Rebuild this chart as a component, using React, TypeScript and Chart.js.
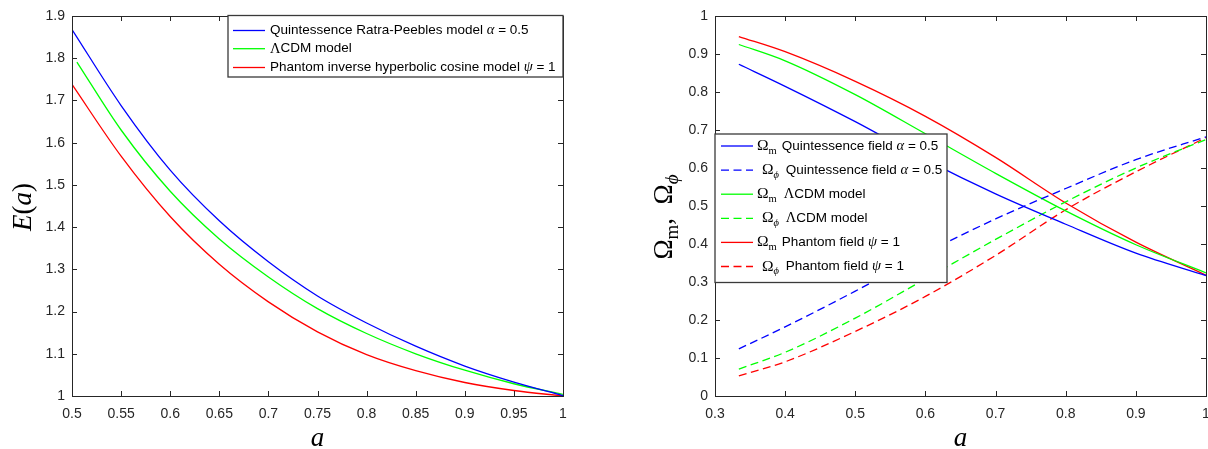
import React, { useEffect, useRef } from "react";
import { Chart, registerables } from "chart.js";

Chart.register(...registerables);

// ---------- Left panel: E(a) ----------
const aQuintLeft = [0.5, 0.55, 0.6, 0.65, 0.7, 0.75, 0.8, 0.85, 0.9, 0.95, 1];
const eQuint = [1.868, 1.688, 1.535, 1.415, 1.318, 1.237, 1.173, 1.118, 1.071, 1.033, 1.001];
const aLcdmLeft = [0.505, 0.55, 0.6, 0.65, 0.7, 0.75, 0.8, 0.85, 0.9, 0.95, 1];
const eLcdm = [1.791, 1.63, 1.485, 1.372, 1.282, 1.207, 1.148, 1.1, 1.061, 1.029, 1.004];
const aPhantomLeft = [0.5, 0.55, 0.6, 0.65, 0.7, 0.75, 0.8, 0.85, 0.9, 0.95, 1];
const ePhantom = [1.738, 1.568, 1.425, 1.312, 1.223, 1.152, 1.098, 1.06, 1.032, 1.013, 1.0];

const leftXTicks = [0.5, 0.55, 0.6, 0.65, 0.7, 0.75, 0.8, 0.85, 0.9, 0.95, 1];
const leftYTicks = [1, 1.1, 1.2, 1.3, 1.4, 1.5, 1.6, 1.7, 1.8, 1.9];

// ---------- Right panel: density parameters ----------
const aRight = [0.334, 0.4, 0.5, 0.6, 0.7, 0.8, 0.9, 1];
const omQuint = [0.873, 0.815, 0.722, 0.622, 0.532, 0.452, 0.376, 0.317];
const ophiQuint = [0.124, 0.182, 0.276, 0.376, 0.466, 0.546, 0.622, 0.682];
const omLcdm = [0.925, 0.882, 0.793, 0.69, 0.586, 0.487, 0.398, 0.324];
const ophiLcdm = [0.071, 0.115, 0.205, 0.308, 0.412, 0.511, 0.6, 0.675];
const omPhantom = [0.946, 0.906, 0.828, 0.736, 0.628, 0.508, 0.405, 0.318];
const ophiPhantom = [0.053, 0.09, 0.17, 0.262, 0.37, 0.49, 0.59, 0.68];

const rightXTicks = [0.3, 0.4, 0.5, 0.6, 0.7, 0.8, 0.9, 1];
const rightYTicks = [0, 0.1, 0.2, 0.3, 0.4, 0.5, 0.6, 0.7, 0.8, 0.9, 1];

const leftLegend = [
  "Quintessence Ratra-Peebles model ",
  "ΛCDM model",
  "Phantom inverse hyperbolic cosine model ",
];
const rightLegendText = [
  " Quintessence field ",
  " Quintessence field ",
  " ΛCDM model",
  " ΛCDM model",
  " Phantom field ",
  " Phantom field ",
];

const BLUE = "#0000ff";
const GREEN = "#00ff00";
const RED = "#ff0000";
const AXIS = "#262626";
const DASH = [8, 4.5];

const SANS = '"Liberation Sans", Arial, Helvetica, sans-serif';
const SERIF = '"Liberation Serif", "DejaVu Serif", "Times New Roman", serif';

type Seg = { t: string; f: string; dy?: number; x?: number };

function drawSegs(ctx: CanvasRenderingContext2D, segs: Seg[], x: number, y: number) {
  let cx = x;
  for (const s of segs) {
    if (s.x !== undefined) cx = x + s.x;
    ctx.font = s.f;
    ctx.fillText(s.t, cx, y + (s.dy || 0));
    cx += ctx.measureText(s.t).width;
  }
  return cx - x;
}

function measureSegs(ctx: CanvasRenderingContext2D, segs: Seg[]) {
  let w = 0;
  for (const s of segs) {
    ctx.font = s.f;
    w += ctx.measureText(s.t).width;
  }
  return w;
}

function pts(xs: number[], ys: number[]) {
  return xs.map((x, i) => ({ x, y: ys[i] }));
}

function frame(chart: any) {
  const { ctx, chartArea } = chart;
  const { left, right, top, bottom } = chartArea;
  const xs = chart.scales.x;
  const ys = chart.scales.y;
  ctx.save();
  ctx.strokeStyle = AXIS;
  ctx.lineWidth = 1;
  ctx.strokeRect(Math.round(left) + 0.5, Math.round(top) + 0.5, Math.round(right - left), Math.round(bottom - top));
  const L = 5;
  ctx.beginPath();
  for (const t of xs.ticks) {
    const px = Math.round(xs.getPixelForValue(t.value)) + 0.5;
    ctx.moveTo(px, bottom);
    ctx.lineTo(px, bottom - L);
    ctx.moveTo(px, top);
    ctx.lineTo(px, top + L);
  }
  for (const t of ys.ticks) {
    const py = Math.round(ys.getPixelForValue(t.value)) + 0.5;
    ctx.moveTo(left, py);
    ctx.lineTo(left + L, py);
    ctx.moveTo(right, py);
    ctx.lineTo(right - L, py);
  }
  ctx.stroke();
  ctx.restore();
}

function legendBox(ctx: CanvasRenderingContext2D, x: number, y: number, w: number, h: number) {
  ctx.save();
  ctx.fillStyle = "#ffffff";
  ctx.fillRect(x, y, w, h);
  ctx.strokeStyle = "#3a3a3a";
  ctx.lineWidth = 1.3;
  ctx.strokeRect(x, y, w, h);
  ctx.restore();
}

function sample(ctx: CanvasRenderingContext2D, x0: number, x1: number, y: number, color: string, dashed: boolean) {
  ctx.save();
  ctx.strokeStyle = color;
  ctx.lineWidth = 1.3;
  ctx.setLineDash(dashed ? DASH : []);
  ctx.beginPath();
  ctx.moveTo(x0, y);
  ctx.lineTo(x1, y);
  ctx.stroke();
  ctx.restore();
}

const leftDecor = {
  id: "leftDecor",
  afterDraw(chart: any) {
    frame(chart);
    const { ctx, chartArea } = chart;
    const { left, right, top, bottom } = chartArea;
    // legend
    const bw = 335;
    const bh = 61.5;
    const bx = right - bw;
    const by = top - 0.5;
    legendBox(ctx, bx, by, bw, bh);
    const colors = [BLUE, GREEN, RED];
    const rowsY = [15, 33.2, 52];
    const sansF = `13.5px ${SANS}`;
    const greekF = `italic 14.5px ${SERIF}`;
    const segsList: Seg[][] = [
      [{ t: leftLegend[0], f: sansF }, { t: "α", f: greekF }, { t: " = 0.5", f: sansF }],
      [{ t: "Λ", f: `14.5px ${SERIF}` }, { t: leftLegend[1].slice(1), f: sansF }],
      [{ t: leftLegend[2], f: sansF }, { t: "ψ", f: greekF }, { t: " = 1", f: sansF }],
    ];
    ctx.save();
    ctx.fillStyle = "#000";
    ctx.textBaseline = "middle";
    segsList.forEach((segs, i) => {
      const yy = by + rowsY[i];
      sample(ctx, bx + 5, bx + 37, yy, colors[i], false);
      drawSegs(ctx, segs, bx + 42, yy);
    });
    ctx.restore();
    // axis titles
    ctx.save();
    ctx.fillStyle = "#000";
    ctx.textBaseline = "alphabetic";
    const big = 27;
    const it = `italic ${big}px ${SERIF}`;
    const up = `${big}px ${SERIF}`;
    const ySegs: Seg[] = [
      { t: "E", f: it },
      { t: "(", f: up },
      { t: "a", f: it },
      { t: ")", f: up },
    ];
    ctx.translate(left - 50, (top + bottom) / 2 + 1);
    ctx.rotate(-Math.PI / 2);
    const w = measureSegs(ctx, ySegs);
    drawSegs(ctx, ySegs, -w / 2, 9);
    ctx.restore();
    ctx.save();
    ctx.fillStyle = "#000";
    ctx.textAlign = "center";
    ctx.textBaseline = "alphabetic";
    ctx.font = it;
    ctx.fillText("a", (left + right) / 2, 446);
    ctx.restore();
  },
};

const rightDecor = {
  id: "rightDecor",
  afterDraw(chart: any) {
    frame(chart);
    const { ctx, chartArea } = chart;
    const { left, right, top, bottom } = chartArea;
    const bx = left;
    const by = top + 118;
    const bw = 232;
    const bh = 148.5;
    legendBox(ctx, bx, by, bw, bh);
    const colors = [BLUE, BLUE, GREEN, GREEN, RED, RED];
    const sansF = `13.5px ${SANS}`;
    const omF = `15.5px ${SERIF}`;
    const subF = `10.5px ${SERIF}`;
    const subIt = `italic 10.5px ${SERIF}`;
    const greekF = `italic 14.5px ${SERIF}`;
    ctx.save();
    ctx.fillStyle = "#000";
    ctx.textBaseline = "middle";
    for (let i = 0; i < 6; i++) {
      const yy = by + 12 + i * 24.1;
      const isPhi = i % 2 === 1;
      sample(ctx, bx + 6, bx + 38, yy, colors[i], isPhi);
      const segs: Seg[] = [];
      if (isPhi) {
        segs.push({ t: "Ω", f: omF, x: 47 });
        segs.push({ t: "ϕ", f: subIt, dy: 5 });
      } else {
        segs.push({ t: "Ω", f: omF, x: 42 });
        segs.push({ t: "m", f: subF, dy: 5 });
      }
      const txt = rightLegendText[i];
      if (txt.indexOf("Λ") >= 0) {
        segs.push({ t: " ", f: sansF, x: isPhi ? 67 : 65 });
        segs.push({ t: "Λ", f: `14.5px ${SERIF}` });
        segs.push({ t: "CDM model", f: sansF });
      } else if (i < 2) {
        segs.push({ t: txt, f: sansF, x: isPhi ? 67 : 63 });
        segs.push({ t: "α", f: greekF });
        segs.push({ t: " = 0.5", f: sansF });
      } else {
        segs.push({ t: txt, f: sansF, x: isPhi ? 67 : 63 });
        segs.push({ t: "ψ", f: greekF });
        segs.push({ t: " = 1", f: sansF });
      }
      drawSegs(ctx, segs, bx, yy);
    }
    ctx.restore();
    // y title: Ω_m, Ω_ϕ
    ctx.save();
    ctx.fillStyle = "#000";
    ctx.textBaseline = "alphabetic";
    const big = 27;
    const up = `${big}px ${SERIF}`;
    const sub = `19px ${SERIF}`;
    const subI = `italic 19px ${SERIF}`;
    const tSegs: Seg[] = [
      { t: "Ω", f: up },
      { t: "m", f: sub, dy: 6 },
      { t: ",  ", f: up },
      { t: "Ω", f: up },
      { t: "ϕ", f: subI, dy: 6 },
    ];
    ctx.translate(left - 52, 217);
    ctx.rotate(-Math.PI / 2);
    const w = measureSegs(ctx, tSegs);
    drawSegs(ctx, tSegs, -w / 2, 9);
    ctx.restore();
    ctx.save();
    ctx.fillStyle = "#000";
    ctx.textAlign = "center";
    ctx.font = `italic ${big}px ${SERIF}`;
    ctx.fillText("a", (left + right) / 2, 446);
    ctx.restore();
  },
};

function line(data: { x: number; y: number }[], color: string, dashed = false) {
  return {
    data,
    borderColor: color,
    borderWidth: 1.3,
    borderDash: dashed ? DASH : [],
    pointRadius: 0,
    fill: false,
    cubicInterpolationMode: "monotone" as const,
  };
}

function axis(min: number, max: number, ticks: number[], size: { w?: number; h?: number }, padding: number) {
  return {
    type: "linear" as const,
    min,
    max,
    afterBuildTicks: (s: any) => {
      s.ticks = ticks.map((v) => ({ value: v }));
    },
    afterFit: (s: any) => {
      if (size.w !== undefined) s.width = size.w;
      if (size.h !== undefined) s.height = size.h;
    },
    grid: { display: false, drawTicks: false },
    border: { display: false },
    ticks: {
      padding,
      color: AXIS,
      autoSkip: false,
      maxRotation: 0,
      font: { family: SANS, size: 14 },
      callback: (v: any) => String(Math.round(Number(v) * 1000) / 1000),
    },
  };
}

export default function App() {
  const leftRef = useRef<HTMLCanvasElement>(null);
  const rightRef = useRef<HTMLCanvasElement>(null);

  useEffect(() => {
    const left = new Chart(leftRef.current as HTMLCanvasElement, {
      type: "line",
      data: {
        datasets: [
          line(pts(aQuintLeft, eQuint), BLUE),
          line(pts(aLcdmLeft, eLcdm), GREEN),
          line(pts(aPhantomLeft, ePhantom), RED),
        ],
      },
      options: {
        animation: false,
        responsive: false,
        devicePixelRatio: 1,
        layout: { padding: { top: 16, right: 17, left: 0, bottom: 0 } },
        plugins: { legend: { display: false }, tooltip: { enabled: false } },
        scales: {
          x: axis(0.5, 1, leftXTicks, { h: 53 }, 10),
          y: axis(1, 1.9, leftYTicks, { w: 72 }, 7),
        },
      } as any,
      plugins: [leftDecor],
    });
    const right = new Chart(rightRef.current as HTMLCanvasElement, {
      type: "line",
      data: {
        datasets: [
          line(pts(aRight, omQuint), BLUE),
          line(pts(aRight, ophiQuint), BLUE, true),
          line(pts(aRight, omLcdm), GREEN),
          line(pts(aRight, ophiLcdm), GREEN, true),
          line(pts(aRight, omPhantom), RED),
          line(pts(aRight, ophiPhantom), RED, true),
        ],
      },
      options: {
        animation: false,
        responsive: false,
        devicePixelRatio: 1,
        layout: { padding: { top: 16, right: 14, left: 0, bottom: 0 } },
        plugins: { legend: { display: false }, tooltip: { enabled: false } },
        scales: {
          x: axis(0.3, 1, rightXTicks, { h: 53 }, 10),
          y: axis(0, 1, rightYTicks, { w: 115 }, 7),
        },
      } as any,
      plugins: [rightDecor],
    });
    return () => {
      left.destroy();
      right.destroy();
    };
  }, []);

  return (
    <div style={{ position: "absolute", left: 0, top: 0, width: 1208, height: 449, background: "#fff", overflow: "hidden" }}>
      <canvas ref={leftRef} width={580} height={449} style={{ position: "absolute", left: 0, top: 0 }} />
      <canvas ref={rightRef} width={620} height={449} style={{ position: "absolute", left: 600, top: 0 }} />
    </div>
  );
}
